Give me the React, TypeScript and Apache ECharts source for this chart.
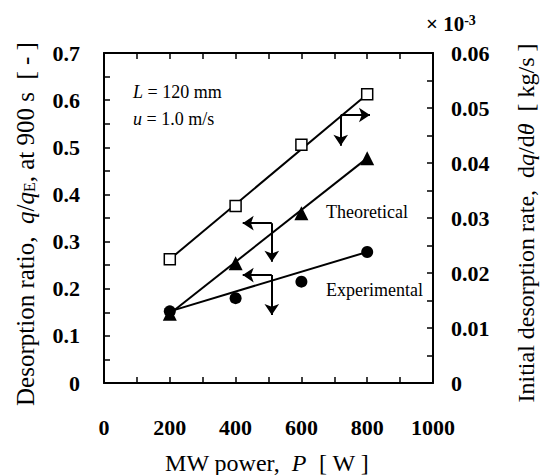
import React, { useEffect, useRef } from "react";
import * as echarts from "echarts";

// MW power [W]
const powers = [200, 400, 600, 800];
// Desorption ratio q/qE at 900 s [-] (left axis)
const theoretical = [0.147, 0.254, 0.36, 0.477];
const experimental = [0.152, 0.18, 0.215, 0.278];
// Initial desorption rate dq/dθ [kg/s] ×10^-3 (right axis)
const initialRate = [0.0225, 0.0322, 0.0433, 0.0525];

// axis ranges
const xRange = [0, 1000, 200];
const leftRange = [0, 0.7, 0.1];
const rightRange = [0, 0.06, 0.01];

// annotation arrows in left-axis data units: [vertexX, vertexY, horizontalEndX, verticalEndY]
const arrowNotes = [
  [719.5, 0.5685, 808.5, 0.503],
  [510, 0.339, 421.6, 0.257],
  [510, 0.229, 421.6, 0.144],
];

const FAMILY = "Liberation Serif";

const pts = (xs: number[], ys: number[]) => xs.map((x, i) => [x, ys[i]]);
const ends = (xs: number[], ys: number[]) => [
  [xs[0], ys[0]],
  [xs[xs.length - 1], ys[ys.length - 1]],
];

export default function App() {
  const ref = useRef<HTMLDivElement>(null);

  useEffect(() => {
    if (!ref.current) return;
    const chart = echarts.init(ref.current, undefined, { renderer: "svg" });

    const axisCommon = {
      axisLine: { show: true, onZero: false, lineStyle: { color: "#000", width: 2 } },
      axisTick: { show: true, inside: true, length: 6, lineStyle: { color: "#000", width: 1.5 } },
      minorTick: { show: true, splitNumber: 2, length: 6, lineStyle: { color: "#000", width: 1.5 } },
      splitLine: { show: false },
      minorSplitLine: { show: false },
    };
    const labelFont = {
      fontFamily: FAMILY,
      fontWeight: "bold" as const,
      fontSize: 22,
      color: "#000",
    };
    const fmt = (v: number) => String(+v.toFixed(3));

    const markLineData: any[] = [];
    arrowNotes.forEach(([vx, vy, hx, dy]) => {
      markLineData.push([{ coord: [vx, vy] }, { coord: [hx, vy] }]);
      markLineData.push([{ coord: [vx, vy] }, { coord: [vx, dy] }]);
    });

    const fitLine = { color: "#000", width: 2, type: "solid" as const };
    const txt = (size: number, extra = "") => ({
      fontFamily: FAMILY,
      fontSize: size,
      ...(extra === "i" ? { fontStyle: "italic" } : {}),
      ...(extra === "b" ? { fontWeight: "bold" } : {}),
    });

    chart.setOption({
      animation: false,
      backgroundColor: "#fff",
      grid: { left: 104, right: 107, top: 53, bottom: 92, containLabel: false },
      xAxis: [
        {
          type: "value",
          position: "bottom",
          min: xRange[0],
          max: xRange[1],
          interval: xRange[2],
          ...axisCommon,
          axisLabel: { ...labelFont, margin: 33, formatter: fmt },
        },
        {
          type: "value",
          position: "top",
          min: xRange[0],
          max: xRange[1],
          interval: xRange[2],
          ...axisCommon,
          axisLabel: { show: false },
        },
      ],
      yAxis: [
        {
          type: "value",
          position: "left",
          min: leftRange[0],
          max: leftRange[1],
          interval: leftRange[2],
          ...axisCommon,
          axisLabel: { ...labelFont, margin: 24, formatter: fmt },
        },
        {
          type: "value",
          position: "right",
          min: rightRange[0],
          max: rightRange[1],
          interval: rightRange[2],
          ...axisCommon,
          axisLabel: { ...labelFont, margin: 18, formatter: fmt },
        },
      ],
      series: [
        {
          type: "line",
          yAxisIndex: 1,
          data: ends(powers, initialRate),
          symbol: "none",
          lineStyle: fitLine,
          silent: true,
          z: 2,
        },
        {
          type: "line",
          yAxisIndex: 0,
          data: ends(powers, theoretical),
          symbol: "none",
          lineStyle: fitLine,
          silent: true,
          z: 2,
          markLine: {
            silent: true,
            symbol: ["none", "arrow"],
            symbolSize: 11,
            label: { show: false },
            lineStyle: { color: "#000", width: 2, type: "solid" },
            emphasis: { disabled: true },
            data: markLineData,
          },
        },
        {
          type: "line",
          yAxisIndex: 0,
          data: ends(powers, experimental),
          symbol: "none",
          lineStyle: fitLine,
          silent: true,
          z: 2,
        },
        {
          type: "scatter",
          yAxisIndex: 1,
          data: pts(powers, initialRate),
          symbol: "rect",
          symbolSize: 11,
          itemStyle: { color: "#fff", borderColor: "#000", borderWidth: 1.5, opacity: 1 },
          z: 3,
        },
        {
          type: "scatter",
          yAxisIndex: 0,
          data: pts(powers, theoretical),
          symbol: "triangle",
          symbolSize: 14,
          itemStyle: { color: "#000", opacity: 1 },
          z: 3,
        },
        {
          type: "scatter",
          yAxisIndex: 0,
          data: pts(powers, experimental),
          symbol: "circle",
          symbolSize: 12,
          itemStyle: { color: "#000", opacity: 1 },
          z: 4,
        },
      ],
      graphic: [
        {
          type: "text",
          x: 133,
          y: 92,
          style: {
            text: "{i|L}{n| = 120 mm}",
            fill: "#000",
            align: "left",
            verticalAlign: "middle",
            rich: { i: txt(18, "i"), n: txt(18) },
          },
        },
        {
          type: "text",
          x: 133,
          y: 119,
          style: {
            text: "{i|u}{n| = 1.0 m/s}",
            fill: "#000",
            align: "left",
            verticalAlign: "middle",
            rich: { i: txt(18, "i"), n: txt(18) },
          },
        },
        {
          type: "text",
          x: 326,
          y: 212,
          style: {
            text: "{n|Theoretical}",
            fill: "#000",
            align: "left",
            verticalAlign: "middle",
            rich: { n: txt(18) },
          },
        },
        {
          type: "text",
          x: 326,
          y: 290,
          style: {
            text: "{n|Experimental}",
            fill: "#000",
            align: "left",
            verticalAlign: "middle",
            rich: { n: txt(18) },
          },
        },
        {
          type: "text",
          x: 426,
          y: 24,
          style: {
            text: "{n|× 10}{s|-3}",
            fill: "#000",
            align: "left",
            verticalAlign: "middle",
            rich: {
              n: txt(21, "b"),
              s: { ...txt(14, "b"), verticalAlign: "top" },
            },
          },
        },
        {
          type: "text",
          x: 267,
          y: 463,
          style: {
            text: "{n|MW power,  }{i|P}{n|  [ W ]}",
            fill: "#000",
            align: "center",
            verticalAlign: "middle",
            rich: { i: txt(24, "i"), n: txt(24) },
          },
        },
        {
          type: "text",
          x: 25,
          y: 224,
          rotation: Math.PI / 2,
          style: {
            text: "{n|Desorption ratio,  }{i|q}{n|/}{i|q}{sub|E}{n|, at 900 s  [ - ]}",
            fill: "#000",
            align: "center",
            verticalAlign: "middle",
            rich: {
              n: txt(25),
              i: txt(25, "i"),
              sub: { ...txt(16), verticalAlign: "bottom" },
            },
          },
        },
        {
          type: "text",
          x: 526,
          y: 223,
          rotation: Math.PI / 2,
          style: {
            text: "{n|Initial desorption rate,  d}{i|q}{n|/d}{i|θ}{n|  [ kg/s ]}",
            fill: "#000",
            align: "center",
            verticalAlign: "middle",
            rich: { n: txt(24), i: txt(24, "i") },
          },
        },
      ],
    });

    return () => chart.dispose();
  }, []);

  return (
    <div
      ref={ref}
      style={{ position: "fixed", left: 0, top: 0, width: 540, height: 475 }}
    />
  );
}
